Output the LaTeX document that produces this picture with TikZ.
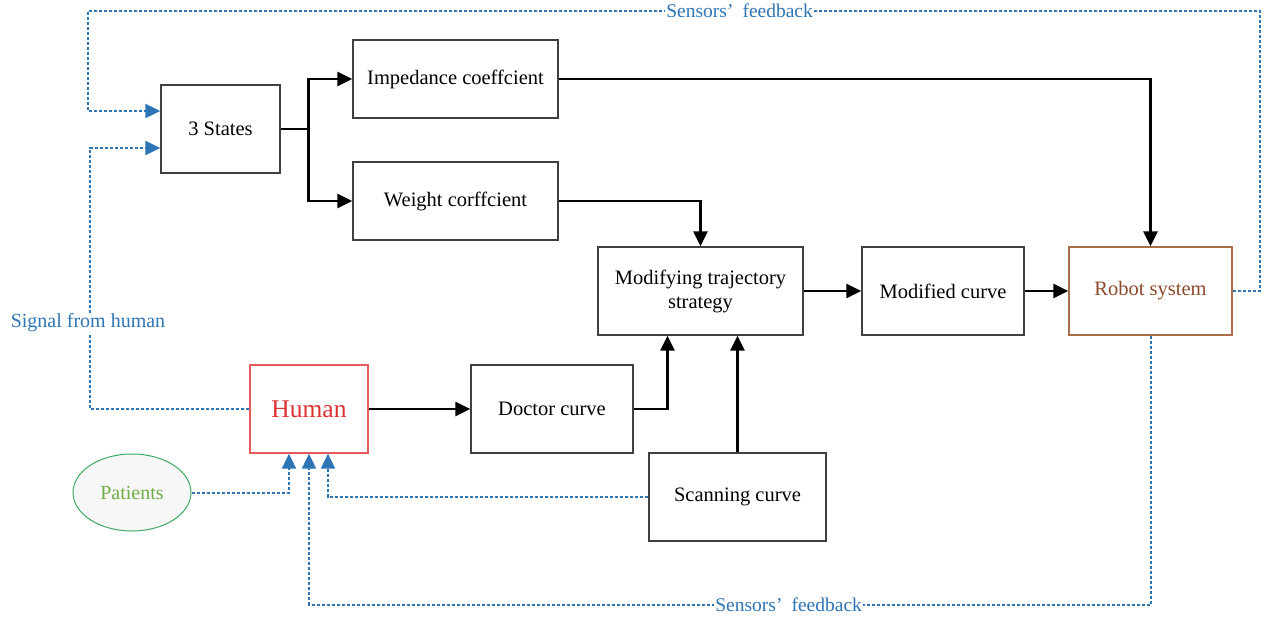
\documentclass[tikz,border=0pt]{standalone}
\usepackage{fontspec}
\setmainfont{Liberation Serif}
\usepackage{tikz}
\usetikzlibrary{arrows.meta, positioning, shapes.geometric, calc}

\definecolor{fbblue}{RGB}{46,117,182}
\definecolor{humanred}{RGB}{222,50,50}
\definecolor{robotbrown}{RGB}{140,72,42}
\definecolor{robotedge}{RGB}{170,110,75}
\definecolor{patgreen}{RGB}{112,173,71}
\definecolor{ellgreen}{RGB}{60,170,100}

\begin{document}
\begin{tikzpicture}[x=1pt, y=-1pt, >={Triangle[length=15pt, width=14pt]},
	block/.style={draw=black!75, line width=1.3pt, minimum width=#1, minimum height=88pt, align=center,
		inner sep=2pt, font=\fontsize{20.5}{24}\selectfont},
	flow/.style={->, line width=2.4pt, black},
	fb/.style={->, fbblue, line width=2pt, dash pattern=on 3pt off 2pt},
	fblabel/.style={fill=white, text=fbblue, inner sep=1pt, font=\fontsize{19.5}{22}\selectfont}]
				\useasboundingbox (0,0) rectangle (1268,621);

				\node[block=119pt] (States) at (220.5,129) {3 States};
				\node[block=205pt, minimum height=78pt] (Impedance) at (455.5,79) {Impedance coeffcient};
				\node[block=205pt, minimum height=78pt] (Weight) at (455.5,201) {Weight corffcient};
				\node[block=205pt] (Modifying) at (700.5,291) {Modifying trajectory \\ strategy};
				\node[block=162pt] (Modified) at (943,291) {Modified curve};
				\node[block=163pt, draw=robotedge, text=robotbrown] (Robot) at (1150.5,291) {Robot system};
				\node[block=118pt, draw=humanred!80, text=humanred, font=\fontsize{25.5}{28}\selectfont] (Human)
					at (309,409) {Human};
				\node[block=162pt] (Doctor) at (552,409) {Doctor curve};
				\node[block=177pt] (Scanning) at (737.5,497) {Scanning curve};
				\node[ellipse, draw=ellgreen, fill=gray!6, line width=1pt, minimum width=118pt, minimum height=77pt,
					text=patgreen, font=\fontsize{20}{24}\selectfont] (Patients) at (132,492.5) {Patients};

				% solid signal paths
				\draw[flow] (States.east) -- ++(28,0) |- (Impedance.west);
				\draw[flow] (States.east) -- ++(28,0) |- (Weight.west);
				\draw[flow] (Impedance.east) -| (Robot.north);
				\draw[flow] (Weight.east) -| (Modifying.north);
				\draw[flow] (Modifying) -- (Modified);
				\draw[flow] (Modified) -- (Robot);
				\draw[flow] (Human) -- (Doctor);
				\draw[flow] (Doctor.east) -| ($(Modifying.south)+(-33,0)$);
				\draw[flow] (Scanning.north) -- (Scanning.north |- Modifying.south);

				% dotted feedback paths
				\coordinate (TopRight) at (1260,11);
				\coordinate (TopLeft) at (88,11);
				\draw[fb] (Robot.east) -| (TopRight) -- node[fblabel, pos=0.444] {Sensors’\hspace{9pt}feedback} (TopLeft)
					|- ($(States.west)+(0,-18)$);
				\draw[fb] (Human.west) -| (90,148) -- ($(States.west)+(0,19)$);
				\node[fblabel, font=\fontsize{20}{24}\selectfont] (SignalLabel) at (88,323) {Signal from human};
				\draw[fb] (Patients.east) -| ($(Human.south)+(-20,0)$);
				\draw[fb] (Robot.south) -- ++(0,269) -| node[fblabel, pos=0.215] {Sensors’\hspace{9pt}feedback}
					(Human.south);
				\draw[fb] (Scanning.west) -| ($(Human.south)+(19,0)$);

			\end{tikzpicture}
\end{document}
